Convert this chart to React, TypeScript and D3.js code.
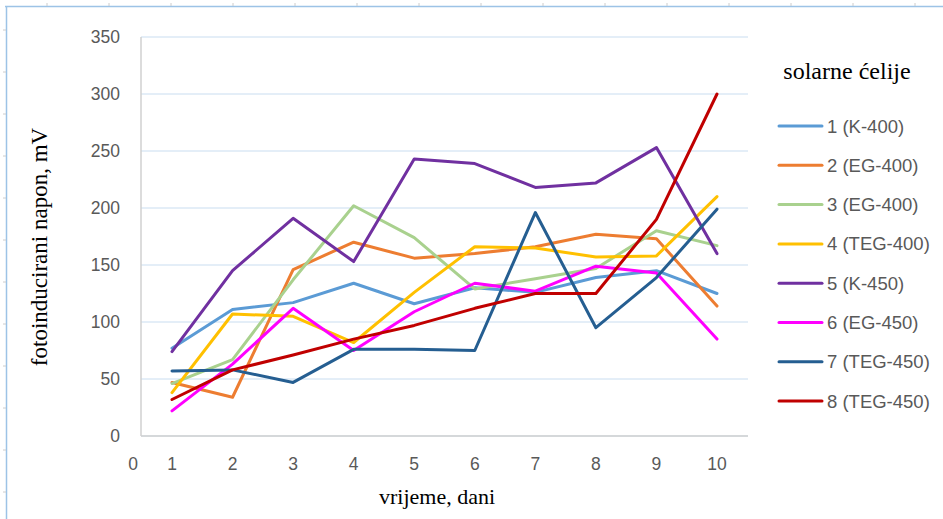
import React from 'react';
import * as d3 from 'd3';

const days = [1, 2, 3, 4, 5, 6, 7, 8, 9, 10];
const yTicks = [0, 50, 100, 150, 200, 250, 300, 350];

const seriesNames = [
  '1 (K-400)',
  '2 (EG-400)',
  '3 (EG-400)',
  '4 (TEG-400)',
  '5 (K-450)',
  '6 (EG-450)',
  '7 (TEG-450)',
  '8 (TEG-450)',
];
const seriesColors = ['#5B9BD5', '#ED7D31', '#A9D18E', '#FFC000', '#7030A0', '#FF00FF', '#255E91', '#C00000'];

const s1 = [77, 111, 117, 134, 116, 130, 126, 139, 145, 125];
const s2 = [47, 34, 146, 170, 156, 160, 166, 177, 173, 114];
const s3 = [46, 67, 137, 202, 174, 129, 138, 147, 180, 167];
const s4 = [38, 107, 105, 82, 126, 166, 165, 157, 158, 210];
const s5 = [74, 145, 191, 153, 243, 239, 218, 222, 253, 160];
const s6 = [22, 63, 112, 75, 109, 134, 127, 149, 143, 85];
const s7 = [57, 58, 47, 76, 76, 75, 196, 95, 139, 199];
const s8 = [32, 58, 71, 85, 97, 112, 125, 125, 190, 300];
const seriesValues = [s1, s2, s3, s4, s5, s6, s7, s8];

export default function App() {
  const width = 943;
  const height = 519;
  const plotLeft = 141;
  const plotRight = 748;
  const plotTop = 37;
  const plotBottom = 436;

  const x = d3.scaleLinear().domain([1, 10]).range([172, 717]);
  const y = d3.scaleLinear().domain([0, 350]).range([plotBottom, plotTop]);

  const line = d3
    .line<number>()
    .x((_, i) => x(days[i]))
    .y((d) => y(d));

  const tickFont = "'Liberation Sans', Arial, sans-serif";
  const serif = "'Liberation Serif', 'Times New Roman', serif";
  const frameTicks = d3.range(47, width, 62);
  const frameLeftTicks = d3.range(30, height, 42);

  return (
    <svg width={width} height={height} style={{ position: 'absolute', left: 0, top: 0, background: '#fff' }}>
      {/* outer frame bits */}
      <line x1={5} x2={width} y1={6.5} y2={6.5} stroke="#9DC3E6" strokeWidth={1.5} />
      <line x1={6.5} x2={6.5} y1={6} y2={height} stroke="#9DC3E6" strokeWidth={1.5} />
      {frameTicks.map((t) => (
        <line key={'ft' + t} x1={t} x2={t} y1={3} y2={6} stroke="#ccc" />
      ))}
      {frameLeftTicks.map((t) => (
        <line key={'fl' + t} x1={3} x2={6} y1={t} y2={t} stroke="#ccc" />
      ))}

      {/* gridlines */}
      {yTicks.map((t) => (
        <line key={'g' + t} x1={plotLeft} x2={plotRight} y1={y(t)} y2={y(t)} stroke="#C9DDF0" strokeWidth={1} />
      ))}
      <line x1={plotLeft} x2={plotLeft} y1={plotTop} y2={plotBottom} stroke="#D0D0D0" strokeWidth={1.5} />
      <line x1={plotLeft} x2={plotRight} y1={plotBottom} y2={plotBottom} stroke="#D0D0D0" strokeWidth={1.5} />

      {/* y tick labels */}
      {yTicks.map((t) => (
        <text key={'yt' + t} x={120} y={y(t) + 6} textAnchor="end" fontSize={17.5} fill="#595959" fontFamily={tickFont}>
          {t}
        </text>
      ))}

      {/* x tick labels */}
      <text x={133} y={470} textAnchor="middle" fontSize={17.5} fill="#595959" fontFamily={tickFont}>
        0
      </text>
      {days.map((d) => (
        <text key={'xt' + d} x={x(d)} y={470} textAnchor="middle" fontSize={17.5} fill="#595959" fontFamily={tickFont}>
          {d}
        </text>
      ))}

      {/* lines */}
      {seriesValues.map((vals, i) => (
        <path
          key={'s' + i}
          d={line(vals) || ''}
          fill="none"
          stroke={seriesColors[i]}
          strokeWidth={3}
          strokeLinejoin="round"
          strokeLinecap="round"
        />
      ))}

      {/* axis titles */}
      <text
        transform={`translate(47,247) rotate(-90)`}
        textAnchor="middle"
        fontSize={23}
        fontFamily={serif}
        fill="#000"
      >
        fotoinducirani napon, mV
      </text>
      <text x={437} y={504} textAnchor="middle" fontSize={22} fontFamily={serif} fill="#000">
        vrijeme, dani
      </text>

      {/* legend */}
      <text x={847} y={79} textAnchor="middle" fontSize={24} fontFamily={serif} fill="#000">
        solarne ćelije
      </text>
      {seriesNames.map((name, i) => {
        const ly = 126 + i * 39.3;
        return (
          <g key={'l' + i}>
            <line x1={779} x2={822} y1={ly} y2={ly} stroke={seriesColors[i]} strokeWidth={3} strokeLinecap="round" />
            <text x={827} y={ly + 6.5} fontSize={18.5} fill="#595959" fontFamily={tickFont}>
              {name}
            </text>
          </g>
        );
      })}
    </svg>
  );
}
